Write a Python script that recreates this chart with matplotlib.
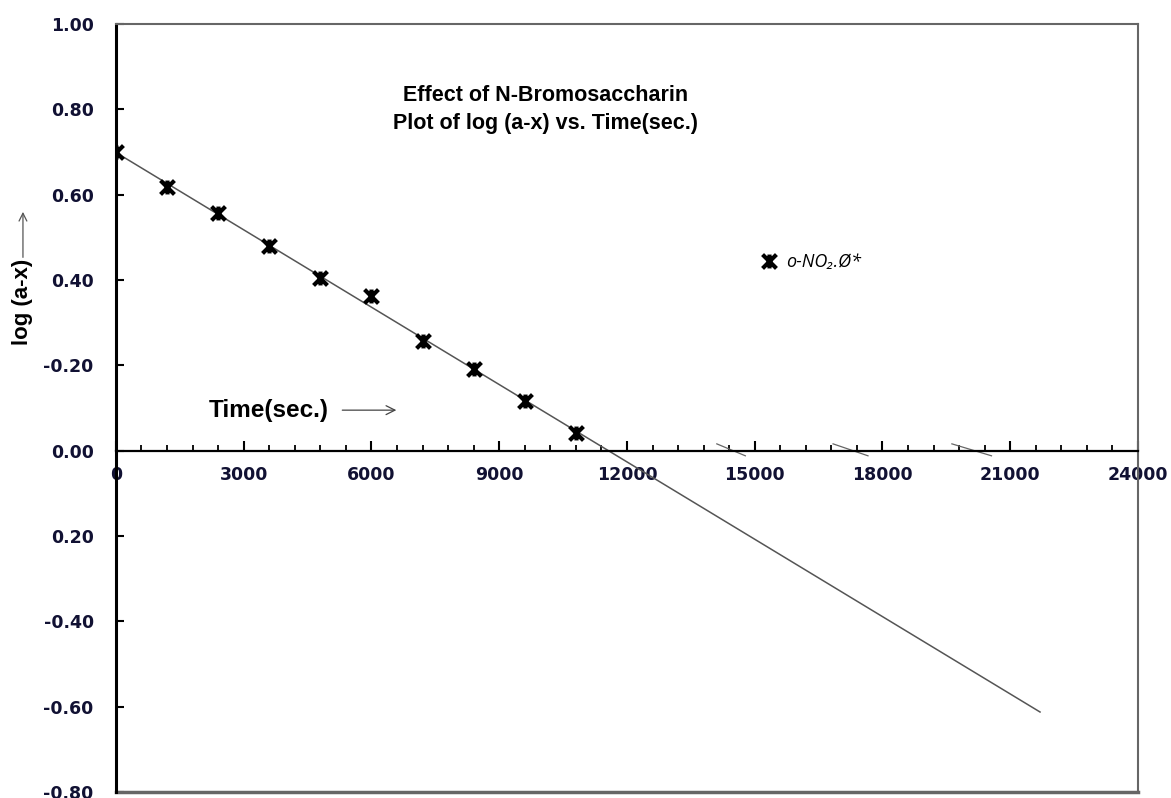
import numpy as np
import matplotlib.pyplot as plt
from matplotlib.path import Path
from matplotlib.ticker import MultipleLocator

# Time (sec.) and log(a-x)
time_sec = [0, 1200, 2400, 3600, 4800, 6000, 7200, 8400, 9600, 10800]
log_ax = [0.700, 0.617, 0.557, 0.479, 0.405, 0.362, 0.256, 0.192, 0.116, 0.042]

fit_end = 21700  # where the fitted line stops

y_ticks = [1.0, 0.8, 0.6, 0.4, 0.2, 0.0, -0.2, -0.4, -0.6, -0.8]
# labels as printed on the original (some signs are swapped there)
y_labels = ['1.00', '0.80', '0.60', '0.40', '-0.20', '0.00', '0.20', '-0.40', '-0.60', '-0.80']
x_ticks = [0, 3000, 6000, 9000, 12000, 15000, 18000, 21000, 24000]

# little stray strokes that sit on the time axis in the original
stray_x = [(14110, 14780), (16840, 17660), (19630, 20560)]
stray_y = (0.016, -0.012)

# excel style "star" marker: an X with a vertical bar
star = Path([(-1, -1), (1, 1), (-1, 1), (1, -1), (0, -1), (0, 1)],
            [Path.MOVETO, Path.LINETO, Path.MOVETO, Path.LINETO, Path.MOVETO, Path.LINETO])

fig = plt.figure(figsize=(11.71, 7.98), dpi=100)
ax = fig.add_axes([0.099, 0.0075, 0.8728, 0.9624])

# fitted straight line
slope, icpt = np.polyfit(time_sec, log_ax, 1)
xx = np.array([0, fit_end])
ax.plot(xx, icpt + slope * xx, color='#555555', lw=1.1, zorder=2)

ax.plot(time_sec, log_ax, linestyle='none', marker=star, ms=10, mew=3.0,
        color='black', label='o-NO\u2082.\u00d8*', zorder=3)

for x0, x1 in stray_x:
    ax.plot([x0, x1], stray_y, color='#666666', lw=0.9)

ax.set_xlim(0, 24000)
ax.set_ylim(-0.8, 1.0)

# x axis goes through zero
ax.spines['bottom'].set_position(('data', 0))
ax.spines['bottom'].set_linewidth(1.6)
ax.spines['left'].set_linewidth(2.2)
for s in ['top', 'right']:
    ax.spines[s].set_color('#666666')
    ax.spines[s].set_linewidth(1.5)
ax.axhline(-0.8, color='#666666', lw=2.5, clip_on=False)

ax.set_xticks(x_ticks)
ax.xaxis.set_minor_locator(MultipleLocator(600))
ax.set_yticks(y_ticks)
ax.set_yticklabels(y_labels)
ax.tick_params(axis='x', which='major', direction='in', length=7, width=1.5, pad=11)
ax.tick_params(axis='x', which='minor', direction='in', length=4, width=1.3)
ax.tick_params(axis='y', direction='in', length=6, width=1.5, pad=16)
for lab in ax.get_xticklabels() + ax.get_yticklabels():
    lab.set_fontfamily('DejaVu Sans')
    lab.set_fontweight('bold')
    lab.set_fontsize(12.5)
    lab.set_color('#111133')

ax.text(0.42, 0.889, 'Effect of N-Bromosaccharin\nPlot of log (a-x) vs. Time(sec.)',
        transform=ax.transAxes, ha='center', va='center', fontsize=15.5,
        fontweight='bold', family='Liberation Sans', linespacing=1.45)

ax.text(2170, 0.095, 'Time(sec.)', fontsize=17.5, fontweight='bold',
        family='Liberation Sans', ha='left', va='center')
ax.annotate('', xy=(6650, 0.095), xytext=(5250, 0.095),
            arrowprops=dict(arrowstyle='->', color='#444444', lw=0.9,
                            mutation_scale=16))

fig.text(0.0196, 0.622, 'log (a-x)', rotation=90, fontsize=16, fontweight='bold',
         family='Liberation Sans', ha='center', va='center')
ax.annotate('', xy=(0.0196, 0.738), xytext=(0.0196, 0.674), xycoords='figure fraction',
            textcoords='figure fraction', annotation_clip=False,
            arrowprops=dict(arrowstyle='->', color='#555555', lw=0.9,
                            mutation_scale=14))

leg = ax.legend(loc='center left', bbox_to_anchor=(0.613, 0.69), frameon=False,
                handletextpad=0.4, handlelength=1.1,
                prop={'family': ['Open Sans', 'DejaVu Sans'], 'style': 'italic', 'size': 13})

plt.savefig('out.png', dpi=100)
